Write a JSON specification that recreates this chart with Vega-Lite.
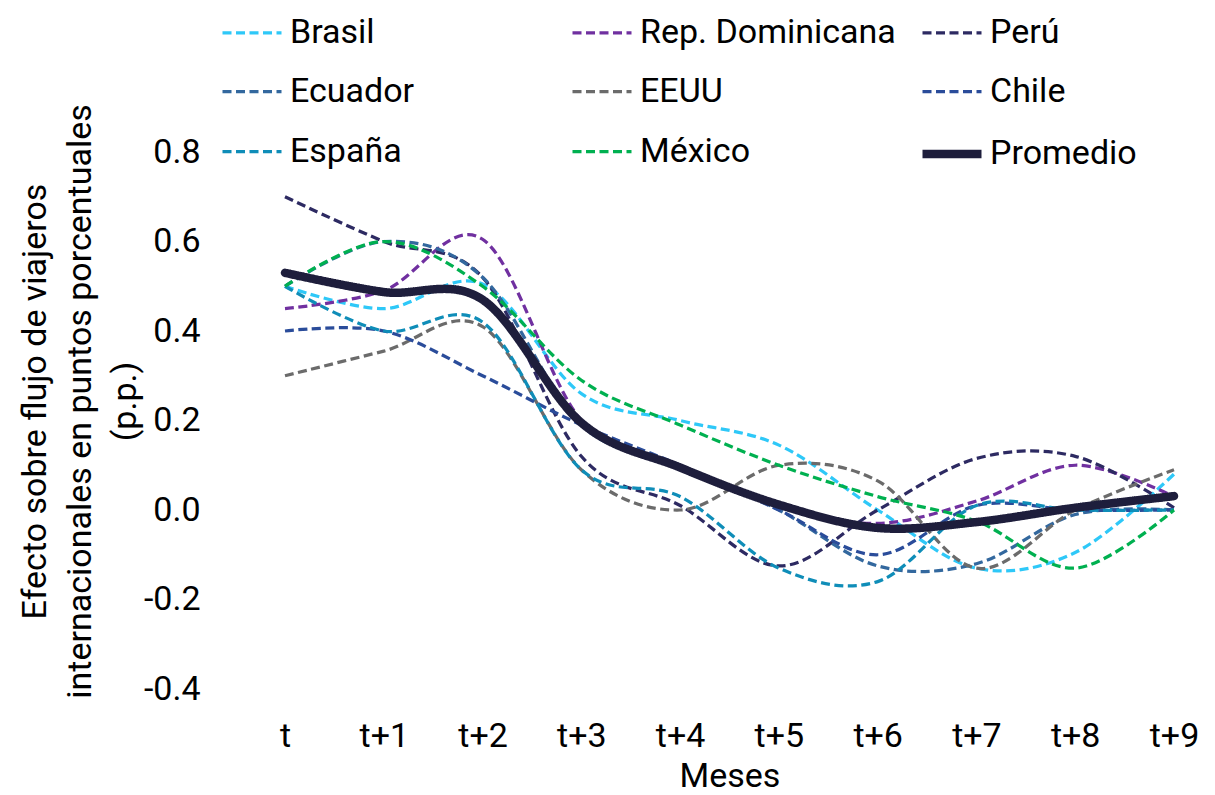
{
  "$schema": "https://vega.github.io/schema/vega-lite/v6.json",
  "width": 979,
  "height": 537,
  "autosize": {"type": "none"},
  "padding": {"left": 236, "top": 152, "right": 0, "bottom": 106},
  "background": "white",
  "config": {
    "font": "Roboto",
    "view": {"stroke": null},
    "axis": {"labelFont": "Roboto", "titleFont": "Roboto", "labelColor": "#000000", "titleColor": "#000000", "titleFontWeight": "normal", "grid": false, "domain": false, "ticks": false},
    "legend": {"labelFont": "Roboto", "labelColor": "#000000"}
  },
  "data": {
    "values": [
      {"mes": "t", "serie": "Brasil", "valor": 0.50},
      {"mes": "t+1", "serie": "Brasil", "valor": 0.45},
      {"mes": "t+2", "serie": "Brasil", "valor": 0.505},
      {"mes": "t+3", "serie": "Brasil", "valor": 0.26},
      {"mes": "t+4", "serie": "Brasil", "valor": 0.20},
      {"mes": "t+5", "serie": "Brasil", "valor": 0.145},
      {"mes": "t+6", "serie": "Brasil", "valor": 0.0},
      {"mes": "t+7", "serie": "Brasil", "valor": -0.13},
      {"mes": "t+8", "serie": "Brasil", "valor": -0.095},
      {"mes": "t+9", "serie": "Brasil", "valor": 0.08},
      {"mes": "t", "serie": "Rep. Dominicana", "valor": 0.45},
      {"mes": "t+1", "serie": "Rep. Dominicana", "valor": 0.49},
      {"mes": "t+2", "serie": "Rep. Dominicana", "valor": 0.605},
      {"mes": "t+3", "serie": "Rep. Dominicana", "valor": 0.20},
      {"mes": "t+4", "serie": "Rep. Dominicana", "valor": 0.10},
      {"mes": "t+5", "serie": "Rep. Dominicana", "valor": 0.01},
      {"mes": "t+6", "serie": "Rep. Dominicana", "valor": -0.03},
      {"mes": "t+7", "serie": "Rep. Dominicana", "valor": 0.02},
      {"mes": "t+8", "serie": "Rep. Dominicana", "valor": 0.10},
      {"mes": "t+9", "serie": "Rep. Dominicana", "valor": 0.03},
      {"mes": "t", "serie": "Perú", "valor": 0.70},
      {"mes": "t+1", "serie": "Perú", "valor": 0.60},
      {"mes": "t+2", "serie": "Perú", "valor": 0.52},
      {"mes": "t+3", "serie": "Perú", "valor": 0.12},
      {"mes": "t+4", "serie": "Perú", "valor": 0.01},
      {"mes": "t+5", "serie": "Perú", "valor": -0.125},
      {"mes": "t+6", "serie": "Perú", "valor": 0.0},
      {"mes": "t+7", "serie": "Perú", "valor": 0.115},
      {"mes": "t+8", "serie": "Perú", "valor": 0.12},
      {"mes": "t+9", "serie": "Perú", "valor": 0.005},
      {"mes": "t", "serie": "Ecuador", "valor": 0.50},
      {"mes": "t+1", "serie": "Ecuador", "valor": 0.60},
      {"mes": "t+2", "serie": "Ecuador", "valor": 0.52},
      {"mes": "t+3", "serie": "Ecuador", "valor": 0.19},
      {"mes": "t+4", "serie": "Ecuador", "valor": 0.10},
      {"mes": "t+5", "serie": "Ecuador", "valor": 0.0},
      {"mes": "t+6", "serie": "Ecuador", "valor": -0.125},
      {"mes": "t+7", "serie": "Ecuador", "valor": -0.12},
      {"mes": "t+8", "serie": "Ecuador", "valor": -0.01},
      {"mes": "t+9", "serie": "Ecuador", "valor": 0.0},
      {"mes": "t", "serie": "EEUU", "valor": 0.30},
      {"mes": "t+1", "serie": "EEUU", "valor": 0.355},
      {"mes": "t+2", "serie": "EEUU", "valor": 0.41},
      {"mes": "t+3", "serie": "EEUU", "valor": 0.09},
      {"mes": "t+4", "serie": "EEUU", "valor": 0.0},
      {"mes": "t+5", "serie": "EEUU", "valor": 0.10},
      {"mes": "t+6", "serie": "EEUU", "valor": 0.065},
      {"mes": "t+7", "serie": "EEUU", "valor": -0.13},
      {"mes": "t+8", "serie": "EEUU", "valor": 0.0},
      {"mes": "t+9", "serie": "EEUU", "valor": 0.09},
      {"mes": "t", "serie": "Chile", "valor": 0.40},
      {"mes": "t+1", "serie": "Chile", "valor": 0.40},
      {"mes": "t+2", "serie": "Chile", "valor": 0.30},
      {"mes": "t+3", "serie": "Chile", "valor": 0.19},
      {"mes": "t+4", "serie": "Chile", "valor": 0.10},
      {"mes": "t+5", "serie": "Chile", "valor": 0.0},
      {"mes": "t+6", "serie": "Chile", "valor": -0.10},
      {"mes": "t+7", "serie": "Chile", "valor": 0.01},
      {"mes": "t+8", "serie": "Chile", "valor": 0.0},
      {"mes": "t+9", "serie": "Chile", "valor": 0.0},
      {"mes": "t", "serie": "España", "valor": 0.50},
      {"mes": "t+1", "serie": "España", "valor": 0.40},
      {"mes": "t+2", "serie": "España", "valor": 0.42},
      {"mes": "t+3", "serie": "España", "valor": 0.09},
      {"mes": "t+4", "serie": "España", "valor": 0.03},
      {"mes": "t+5", "serie": "España", "valor": -0.13},
      {"mes": "t+6", "serie": "España", "valor": -0.16},
      {"mes": "t+7", "serie": "España", "valor": 0.01},
      {"mes": "t+8", "serie": "España", "valor": 0.0},
      {"mes": "t+9", "serie": "España", "valor": 0.0},
      {"mes": "t", "serie": "México", "valor": 0.50},
      {"mes": "t+1", "serie": "México", "valor": 0.60},
      {"mes": "t+2", "serie": "México", "valor": 0.50},
      {"mes": "t+3", "serie": "México", "valor": 0.29},
      {"mes": "t+4", "serie": "México", "valor": 0.19},
      {"mes": "t+5", "serie": "México", "valor": 0.10},
      {"mes": "t+6", "serie": "México", "valor": 0.03},
      {"mes": "t+7", "serie": "México", "valor": -0.025},
      {"mes": "t+8", "serie": "México", "valor": -0.13},
      {"mes": "t+9", "serie": "México", "valor": 0.0},
      {"mes": "t", "serie": "Promedio", "valor": 0.53},
      {"mes": "t+1", "serie": "Promedio", "valor": 0.487},
      {"mes": "t+2", "serie": "Promedio", "valor": 0.47},
      {"mes": "t+3", "serie": "Promedio", "valor": 0.195},
      {"mes": "t+4", "serie": "Promedio", "valor": 0.095},
      {"mes": "t+5", "serie": "Promedio", "valor": 0.012},
      {"mes": "t+6", "serie": "Promedio", "valor": -0.04},
      {"mes": "t+7", "serie": "Promedio", "valor": -0.027},
      {"mes": "t+8", "serie": "Promedio", "valor": 0.005},
      {"mes": "t+9", "serie": "Promedio", "valor": 0.031}
    ]
  },
  "encoding": {
    "x": {
      "field": "mes", "type": "ordinal",
      "sort": ["t", "t+1", "t+2", "t+3", "t+4", "t+5", "t+6", "t+7", "t+8", "t+9"],
      "scale": {"type": "point", "range": [49, 938], "padding": 0},
      "axis": {"orient": "bottom", "labelAngle": 0, "labelFontSize": 34, "labelPadding": 30, "title": "Meses", "titleFontSize": 34, "titlePadding": 6}
    },
    "y": {
      "field": "valor", "type": "quantitative",
      "scale": {"domain": [-0.4, 0.8], "nice": false, "zero": false},
      "axis": {
        "values": [-0.4, -0.2, 0, 0.2, 0.4, 0.6, 0.8],
        "labelExpr": "replace(format(datum.value, '.1f'), '\u2212', '-')",
        "labelFontSize": 34, "labelPadding": 36,
        "title": ["Efecto sobre flujo de viajeros", "internacionales en puntos porcentuales", "(p.p.)"],
        "titleFontSize": 34, "titleLineHeight": 45, "titleBaseline": "middle", "titleX": -201, "titleY": 249
      }
    },
    "color": {
      "field": "serie", "type": "nominal",
      "scale": {
        "domain": ["Brasil", "Rep. Dominicana", "Perú", "Ecuador", "EEUU", "Chile", "España", "México", "Promedio"],
        "range": ["#2EC8F8", "#7030A0", "#2D2A62", "#33689E", "#6B6B6B", "#2A4C9A", "#0F8DB8", "#00B050", "#1E1E3C"]
      },
      "legend": {
        "title": null, "orient": "none", "legendX": -18, "legendY": -152, "direction": "horizontal", "columns": 3,
        "gridAlign": "all", "columnPadding": 9, "rowPadding": 9, "padding": 0,
        "symbolType": "stroke", "symbolSize": 3481, "labelFontSize": 34, "labelOffset": 4, "labelLimit": 400
      }
    },
    "strokeDash": {
      "field": "serie", "type": "nominal",
      "scale": {
        "domain": ["Brasil", "Rep. Dominicana", "Perú", "Ecuador", "EEUU", "Chile", "España", "México", "Promedio"],
        "range": [[9, 4.5], [9, 4.5], [9, 4.5], [9, 4.5], [9, 4.5], [9, 4.5], [9, 4.5], [9, 4.5], [1, 0]]
      }
    },
    "strokeWidth": {
      "field": "serie", "type": "ordinal",
      "sort": ["Brasil", "Rep. Dominicana", "Perú", "Ecuador", "EEUU", "Chile", "España", "México", "Promedio"],
      "scale": {
        "type": "ordinal",
        "domain": ["Brasil", "Rep. Dominicana", "Perú", "Ecuador", "EEUU", "Chile", "España", "México", "Promedio"],
        "range": [3.25, 3.25, 3.25, 3.25, 3.25, 3.25, 3.25, 3.25, 8.5]
      }
    }
  },
  "layer": [
    {
      "data": {"values": [{}]},
      "mark": {"type": "rule", "color": "#D9D9D9", "strokeWidth": 2},
      "encoding": {"x": null, "color": null, "strokeDash": null, "strokeWidth": null, "y": {"datum": 0}}
    },
    {
      "transform": [{"filter": "datum.serie !== 'Promedio'"}],
      "mark": {"type": "line", "interpolate": "cardinal"}
    },
    {
      "transform": [{"filter": "datum.serie === 'Promedio'"}],
      "mark": {"type": "line", "interpolate": "cardinal", "strokeCap": "round"}
    }
  ]
}
